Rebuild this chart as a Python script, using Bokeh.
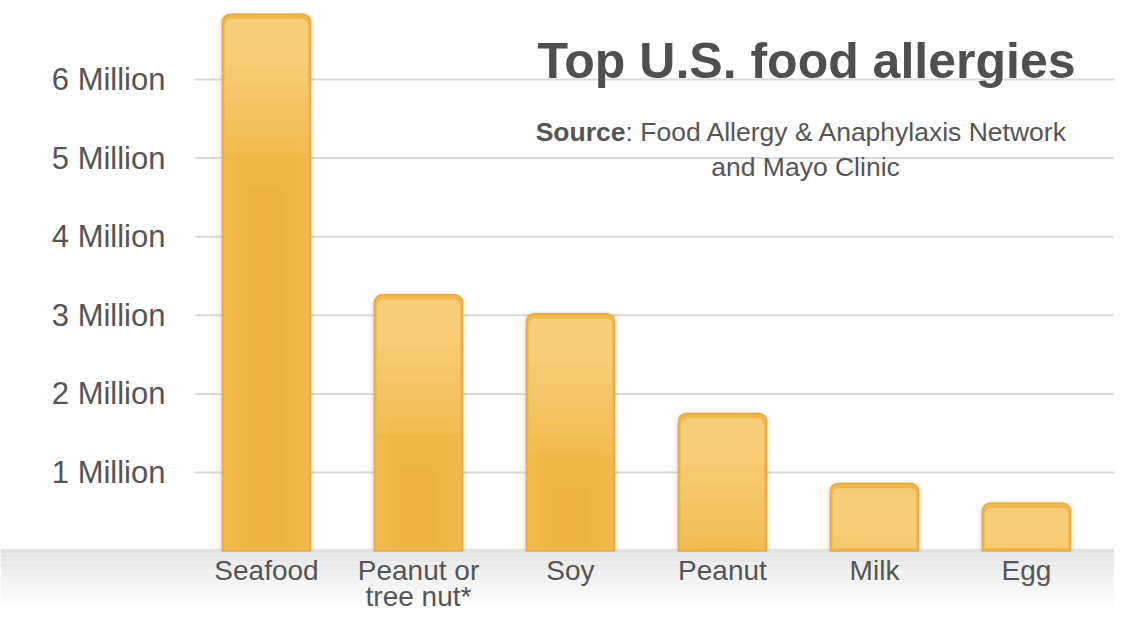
from bokeh.plotting import figure
from bokeh.models import Range1d, FixedTicker, Label
from bokeh.embed import file_html
from bokeh.resources import INLINE

# ---- data ----
categories = ["Seafood", "Peanut or\ntree nut*", "Soy", "Peanut", "Milk", "Egg"]
values = [6.83, 3.26, 3.02, 1.75, 0.86, 0.61]          # millions of people
y_ticks = [1, 2, 3, 4, 5, 6]
y_tick_labels = ["1 Million", "2 Million", "3 Million", "4 Million", "5 Million", "6 Million"]
title_text = "Top U.S. food allergies"
source_bold = "Source"
source_rest = ": Food Allergy & Anaphylaxis Network"
source_line2 = "and Mayo Clinic"

FONT = "Liberation Sans"
W, H = 1114, 612
X0, X1 = -1.75, 5.579
Y0, Y1 = -0.781, 7.005

xs = list(range(len(categories)))

p = figure(width=W, height=H, x_range=Range1d(X0, X1), y_range=Range1d(Y0, Y1),
           output_backend="svg", toolbar_location=None, min_border=0)
p.outline_line_color = None
p.xgrid.visible = False
p.ygrid.visible = False
p.background_fill_color = "white"
p.border_fill_color = "white"

# gray floor band (gradient made from strips)
n = 14
for i in range(n):
    t = i / (n - 1)
    g = int(0xE3 + (0xFF - 0xE3) * t ** 0.8)
    col = "#%02x%02x%02x" % (g, g, g)
    top = 0.03 + (Y0 - 0.03) * i / n
    bot = 0.03 + (Y0 - 0.03) * (i + 1) / n
    p.quad(left=X0, right=X1, top=top, bottom=bot, fill_color=col, line_color=None)

# gridlines
p.segment(x0=[-0.47] * len(y_ticks), x1=[X1] * len(y_ticks), y0=y_ticks, y1=y_ticks,
          line_color="#dadada", line_width=2)

# bar shadows
p.vbar(x=xs, top=[v + 0.04 for v in values], bottom=0, width=0.635,
       fill_color="#8a8a8a", fill_alpha=0.07, line_color=None, border_radius=(12, 12, 0, 0))
p.vbar(x=xs, top=[v + 0.02 for v in values], bottom=0, width=0.605,
       fill_color="#8a8a8a", fill_alpha=0.12, line_color=None, border_radius=(10, 10, 0, 0))

# bars
p.vbar(x=xs, top=values, bottom=0, width=0.58, fill_color="#F1B949",
       line_color="#E4AA45", line_width=1.5, border_radius=(8, 8, 0, 0))
# lower orange core (soft)
for j in range(3):
    p.vbar(x=xs, top=[max(0.0, v - 1.6 - 0.3 * j) for v in values], bottom=0.05,
           width=0.40 - 0.08 * j, fill_color="#EBA536", fill_alpha=0.10, line_color=None)
# upper glossy highlight (soft steps)
for j in range(7):
    p.vbar(x=xs, top=[v - 0.06 for v in values],
           bottom=[max(0.04, v - (0.45 + 0.22 * j)) for v in values],
           width=0.55, fill_color="#FBE0A6", fill_alpha=0.10, line_color=None,
           border_radius=(6, 6, 0, 0))

# y axis
ya = p.yaxis[0]
ya.fixed_location = -0.5
ya.ticker = FixedTicker(ticks=y_ticks)
ya.major_label_overrides = {t: s for t, s in zip(y_ticks, y_tick_labels)}
ya.axis_line_color = None
ya.major_tick_line_color = None
ya.minor_tick_line_color = None
ya.major_tick_out = 0
ya.major_tick_in = 0
ya.major_label_standoff = 25
ya.major_label_text_font = FONT
ya.major_label_text_font_size = "31px"
ya.major_label_text_color = "#555555"

# x axis
xa = p.xaxis[0]
xa.fixed_location = 0
xa.ticker = FixedTicker(ticks=xs)
xa.major_label_overrides = {i: c for i, c in zip(xs, categories)}
xa.axis_line_color = None
xa.major_tick_line_color = None
xa.minor_tick_line_color = None
xa.major_tick_out = 0
xa.major_tick_in = 0
xa.major_label_standoff = 4
xa.major_label_text_font = FONT
xa.major_label_text_font_size = "28px"
xa.major_label_text_line_height = 0.85
xa.major_label_text_color = "#555555"

# title and source
p.add_layout(Label(x=806, y=H - 60, x_units="screen", y_units="screen", text=title_text,
                   text_align="center", text_baseline="middle", text_font=FONT,
                   text_font_size="50px", text_font_style="bold", text_color="#4f4f4f"))
p.add_layout(Label(x=625, y=H - 131, x_units="screen", y_units="screen", text=source_bold,
                   text_align="right", text_baseline="middle", text_font=FONT,
                   text_font_size="26.5px", text_font_style="bold", text_color="#555555"))
p.add_layout(Label(x=625, y=H - 131, x_units="screen", y_units="screen", text=source_rest,
                   text_align="left", text_baseline="middle", text_font=FONT,
                   text_font_size="26.5px", text_color="#555555"))
p.add_layout(Label(x=805, y=H - 166, x_units="screen", y_units="screen", text=source_line2,
                   text_align="center", text_baseline="middle", text_font=FONT,
                   text_font_size="26.5px", text_color="#555555"))

open("out.html", "w").write(file_html(p, INLINE))
